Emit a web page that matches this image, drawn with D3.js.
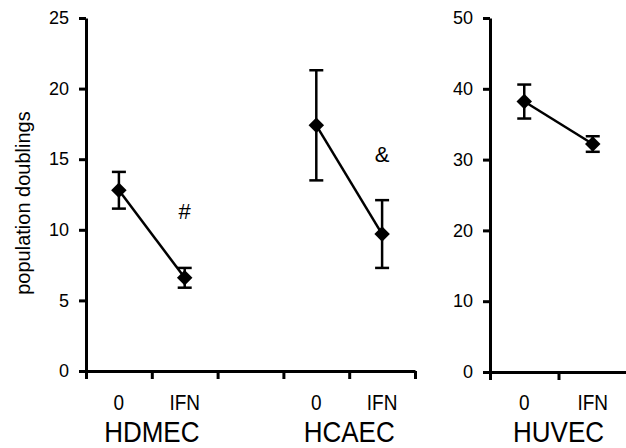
<!DOCTYPE html>
<html>
<head>
<meta charset="utf-8">
<script src="https://cdn.jsdelivr.net/npm/d3@7"></script>
<style>
  body { margin: 0; background: #fff; }
  text { font-family: "Liberation Sans", Arial, sans-serif; fill: #000; }
</style>
</head>
<body>
<div id="chart"></div>
<script>
// data
const groups = ["HDMEC", "HCAEC", "HUVEC"];
const conditions = ["0", "IFN"];
const means = [[12.8, 6.6], [17.4, 9.7], [38.2, 32.2]];
const errors = [[1.3, 0.7], [3.9, 2.4], [2.4, 1.1]];
const leftTicks = [0, 5, 10, 15, 20, 25];
const rightTicks = [0, 10, 20, 30, 40, 50];
const marks = [{ group: 0, text: "#", level: 11.3 }, { group: 1, text: "&", level: 15.4 }];

const width = 626, height = 448;

const svg = d3.select("#chart")
    .append("svg")
    .attr("width", width)
    .attr("height", height);

// scales: left panel shares axis for HDMEC + gap + HCAEC
const xLeft = d3.scaleLinear().domain([0, 5]).range([86, 415]);
const yLeft = d3.scaleLinear().domain([0, 25]).range([371, 18]);
const xRight = d3.scaleLinear().domain([0, 2]).range([490, 627]);
const yRight = d3.scaleLinear().domain([0, 50]).range([372, 18]);

// slot of each group on its panel
const slot = [0, 3, 0];
const panel = g => g < 2 ? { x: xLeft, y: yLeft } : { x: xRight, y: yRight };

function styleAxis(a) {
    a.select(".domain").attr("stroke", "#000").attr("stroke-width", 3);
    a.selectAll(".tick line").attr("stroke", "#000").attr("stroke-width", 3);
    a.selectAll("text").style("font-size", "18px");
}

// y axes
svg.append("g")
    .attr("transform", `translate(${xLeft(0)},0)`)
    .call(d3.axisLeft(yLeft).tickValues(leftTicks).tickSize(7).tickSizeOuter(0).tickPadding(10))
    .call(styleAxis);

svg.append("g")
    .attr("transform", `translate(${xRight(0)},0)`)
    .call(d3.axisLeft(yRight).tickValues(rightTicks).tickSize(7).tickSizeOuter(0).tickPadding(10))
    .call(styleAxis);

// x axes (ticks at slot boundaries)
svg.append("g")
    .attr("transform", `translate(0,${yLeft(0)})`)
    .call(d3.axisBottom(xLeft).tickValues([0, 1, 2, 3, 4, 5]).tickFormat("").tickSize(8).tickSizeOuter(0))
    .call(styleAxis);

svg.append("g")
    .attr("transform", `translate(0,${yRight(0)})`)
    .call(d3.axisBottom(xRight).tickValues([0, 1, 2]).tickFormat("").tickSize(8).tickSizeOuter(0))
    .call(styleAxis);

// condition + group labels (slightly taller glyphs, as in the figure)
groups.forEach((name, g) => {
    const p = panel(g);
    conditions.forEach((c, i) => {
        svg.append("text")
            .attr("transform", `translate(${p.x(slot[g] + i + 0.5)},410) scale(1,1.15)`)
            .attr("text-anchor", "middle")
            .style("font-size", "19px")
            .text(c);
    });
    svg.append("text")
        .attr("transform", `translate(${p.x(slot[g] + 1)},442) scale(1,1.15)`)
        .attr("text-anchor", "middle")
        .style("font-size", "26px")
        .text(name);
});

// y label
svg.append("text")
    .attr("transform", "translate(30,203) rotate(-90)")
    .attr("text-anchor", "middle")
    .style("font-size", "20px")
    .text("population doublings");

// lines, error bars, diamonds
const line = d3.line();
groups.forEach((name, g) => {
    const p = panel(g);
    const pts = means[g].map((m, i) => [p.x(slot[g] + i + 0.5), p.y(m)]);

    svg.append("path")
        .attr("d", line(pts))
        .attr("fill", "none")
        .attr("stroke", "#000")
        .attr("stroke-width", 2.5);

    means[g].forEach((m, i) => {
        const cx = p.x(slot[g] + i + 0.5);
        const top = p.y(m + errors[g][i]);
        const bot = p.y(m - errors[g][i]);
        const eb = svg.append("g").attr("stroke", "#000").attr("stroke-width", 2.5);
        eb.append("line").attr("x1", cx).attr("x2", cx).attr("y1", top).attr("y2", bot);
        eb.append("line").attr("x1", cx - 7).attr("x2", cx + 7).attr("y1", top).attr("y2", top);
        eb.append("line").attr("x1", cx - 7).attr("x2", cx + 7).attr("y1", bot).attr("y2", bot);

        svg.append("path")
            .attr("d", d3.symbol(d3.symbolSquare, 120)())
            .attr("transform", `translate(${cx},${p.y(m)}) rotate(45)`)
            .attr("fill", "#000");
    });
});

// significance marks
marks.forEach(d => {
    const p = panel(d.group);
    svg.append("text")
        .attr("x", p.x(slot[d.group] + 1.5))
        .attr("y", p.y(d.level) + 8)
        .attr("text-anchor", "middle")
        .style("font-size", "22px")
        .text(d.text);
});
</script>
</body>
</html>
